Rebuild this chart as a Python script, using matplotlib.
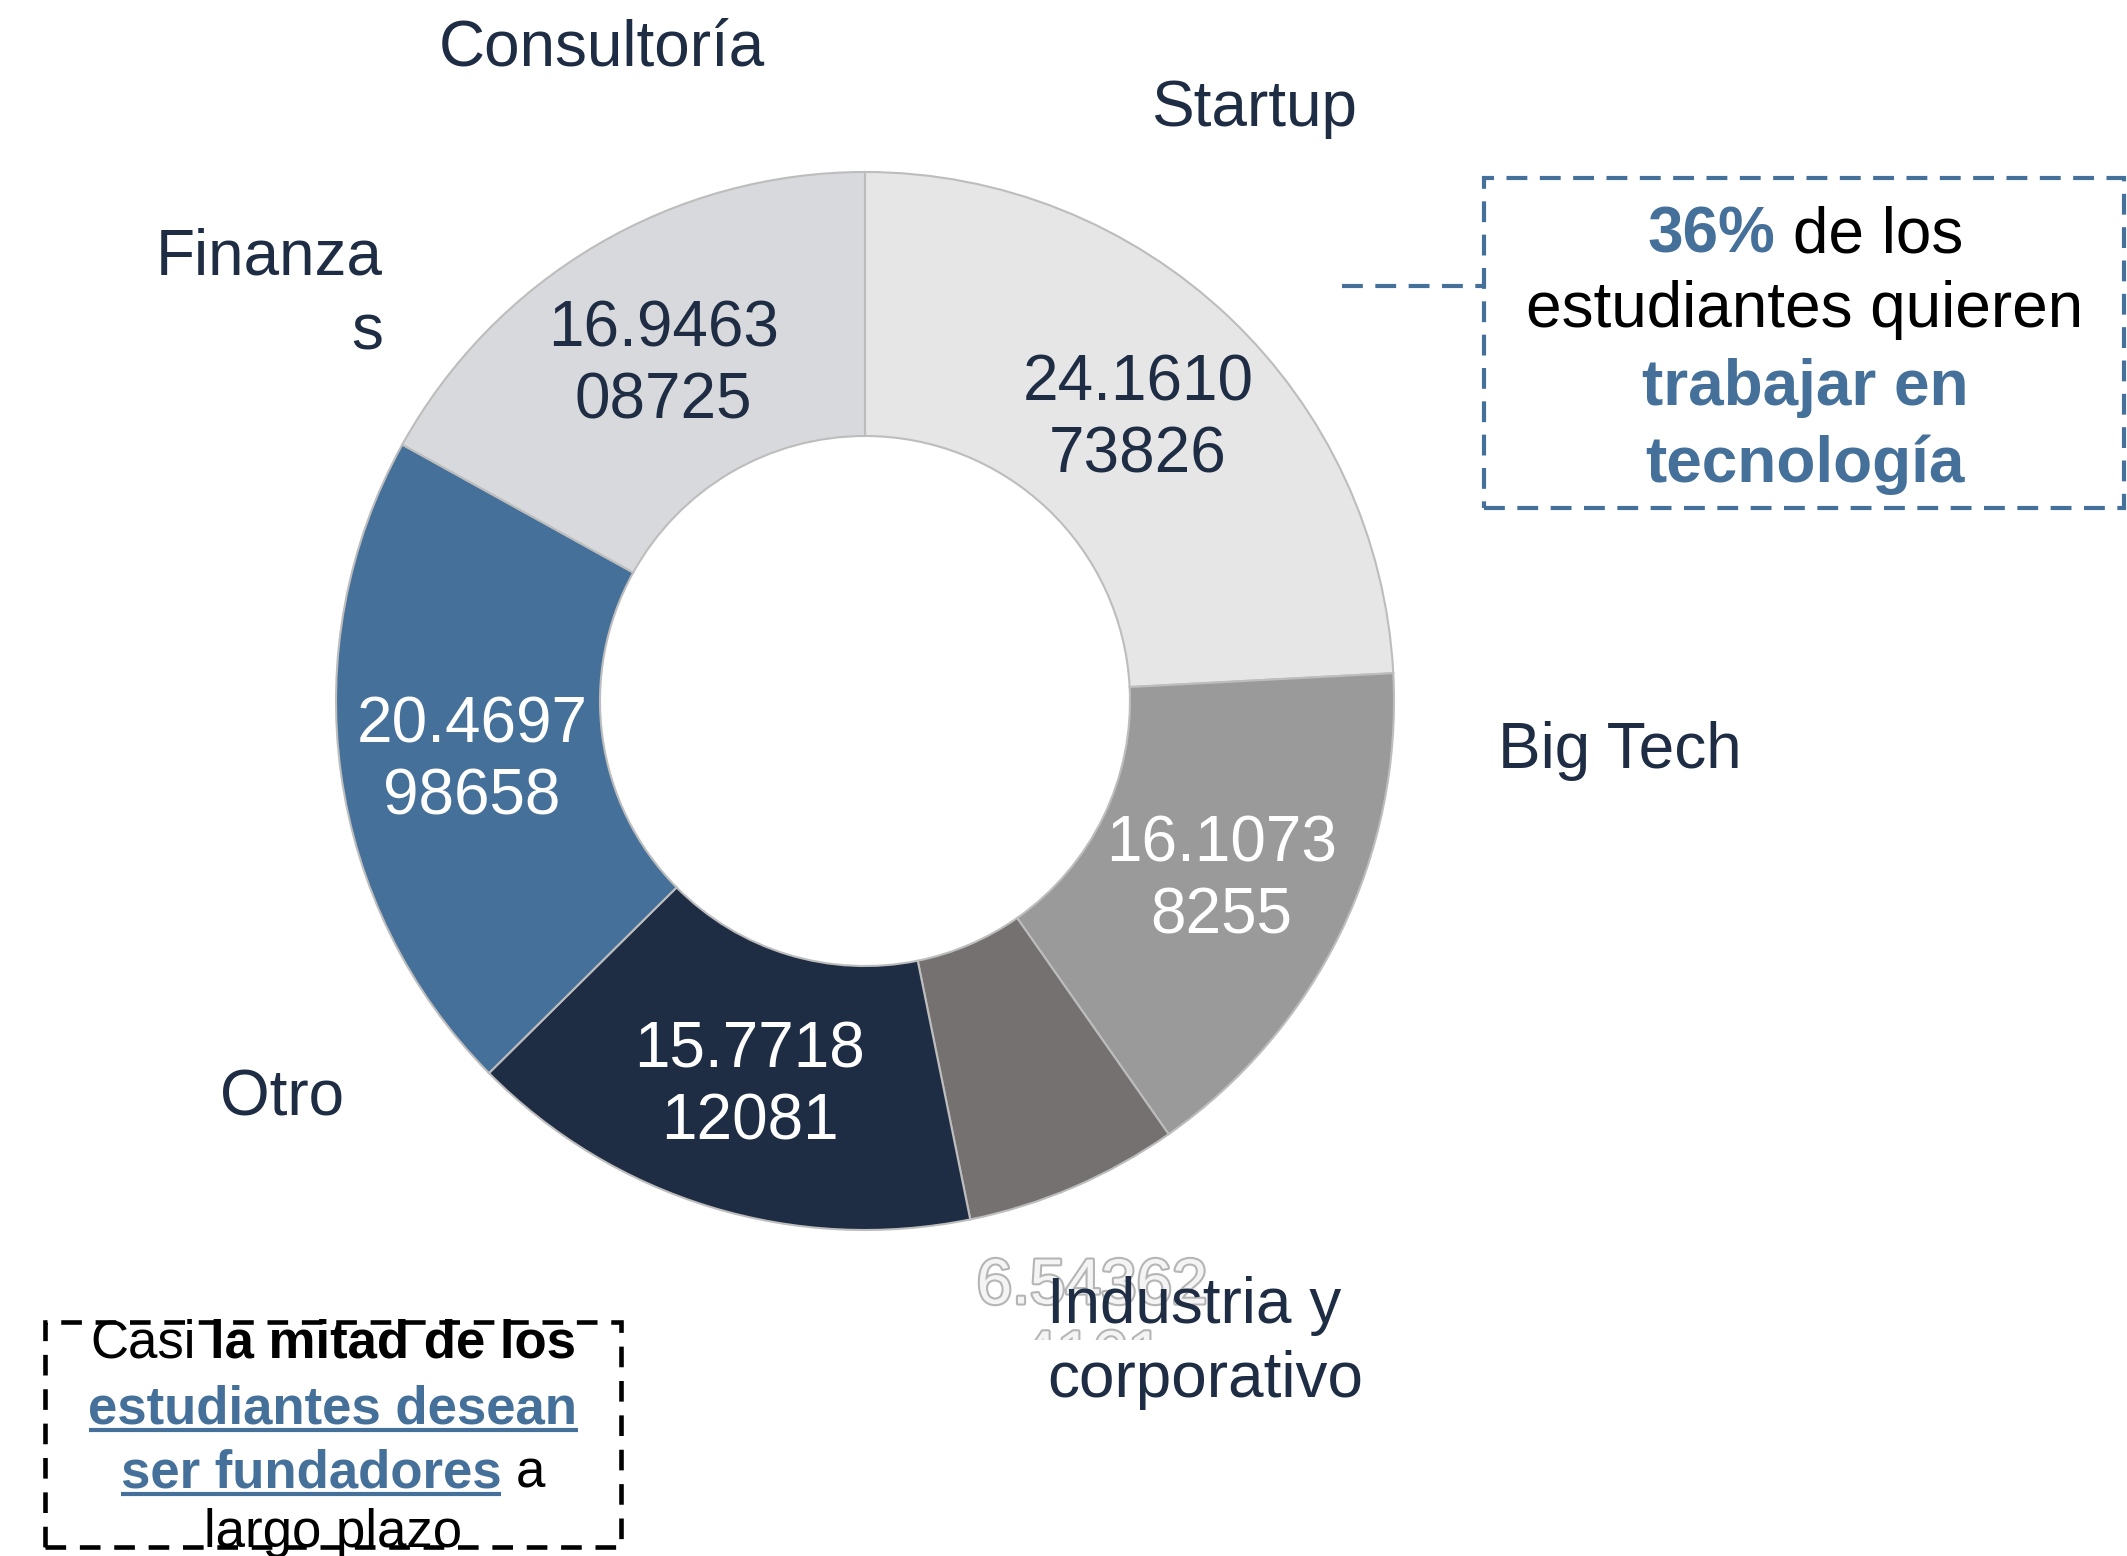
import numpy as np
import matplotlib
matplotlib.use("Agg")
import matplotlib.pyplot as plt
from matplotlib.patches import Rectangle
import matplotlib.patheffects as pe

# Datos de la encuesta (porcentaje de estudiantes)
categorias = ["Startup", "Big Tech", "Industria y corporativo", "Otro", "Finanzas", "Consultoría"]
valores = [24.161073826, 16.10738255, 6.543624161, 15.771812081, 20.469798658, 16.946308725]
colores = ["#e6e6e6", "#9a9a9a", "#757171", "#1f2d44", "#44709a", "#d8d9dc"]
color_texto = ["#1f2d44", "white", "#f4f4f4", "white", "white", "#1f2d44"]

AZUL = "#44709a"
NAVY = "#1f2d44"
W, H = 2127, 1556
plt.rcParams["font.family"] = ["Liberation Sans", "DejaVu Sans"]

fig = plt.figure(figsize=(W / 100, H / 100), dpi=100)
ax = fig.add_axes([0, 0, 1, 1])

# Centro y radios del anillo (en pixeles de la figura)
cx, cy = 865, H - 701
R = 529
ancho = 264

wedges, _ = ax.pie(valores, colors=colores, startangle=90, counterclock=False,
                   radius=R, center=(cx, cy),
                   wedgeprops=dict(width=ancho, edgecolor="#bdbdbd", linewidth=1.5))
ax.set_xlim(0, W)
ax.set_ylim(0, H)
ax.set_aspect("auto")
ax.axis("off")

# Etiquetas de valor dentro de cada porción
r_etiqueta = [0.75, 0.75, 1.24, 0.75, 0.75, 0.75]
desfase = [0, 0, -3, 0, 0, 0]
acum = 90.0
for v, col, rf, d in zip(valores, color_texto, r_etiqueta, desfase):
    ang = acum - v * 3.6 / 2 + d
    acum -= v * 3.6
    s = repr(v)
    txt = s[:7] + "\n" + s[7:]
    x = cx + rf * R * np.cos(np.radians(ang))
    y = cy + rf * R * np.sin(np.radians(ang)) - 6
    t = ax.text(x, y, txt, ha="center", va="center", fontsize=46, color=col,
                linespacing=1.25, zorder=3)
    if rf > 1:
        t.set_path_effects([pe.Stroke(linewidth=3, foreground="#b5b5b5"), pe.Normal()])

# tapa blanca bajo la etiqueta de categoría
ax.add_patch(Rectangle((960, H - 1425), 320, 85, facecolor="white", edgecolor="none", zorder=4))

# Nombres de categoría
def etiqueta(x, yb, s, ha="left"):
    ax.text(x, H - yb, s, ha=ha, va="baseline", fontsize=46, color=NAVY, zorder=5)

etiqueta(439, 65, "Consultoría")
etiqueta(1151, 126, "Startup")
etiqueta(383, 274, "Finanza", ha="right")
etiqueta(383, 349, "s", ha="right")
etiqueta(1498, 768, "Big Tech")
etiqueta(220, 1116, "Otro")
etiqueta(1047, 1323, "Industria y")
etiqueta(1047, 1397, "corporativo")

renderer = fig.canvas.get_renderer()


def linea_mixta(segmentos, xc, yb, size, subrayar=None):
    textos = []
    for s, col, peso in segmentos:
        t = ax.text(0, H - yb, s, ha="left", va="baseline", fontsize=size,
                    color=col, fontweight=peso, zorder=5)
        textos.append(t)
    anchos = [t.get_window_extent(renderer).width for t in textos]
    esp = 0.278 * size * 100 / 72
    total = sum(anchos) + esp * (len(textos) - 1)
    x = xc - total / 2
    for i, (t, w) in enumerate(zip(textos, anchos)):
        t.set_x(x)
        if subrayar and i in subrayar:
            ax.plot([x, x + w], [H - yb - 7, H - yb - 7], color=AZUL, lw=3, zorder=5,
                    solid_capstyle="butt")
        x += w + esp


# Recuadro de tecnología
ax.add_patch(Rectangle((1484, H - 508), 640, 330, fill=False, edgecolor=AZUL,
                       lw=3, linestyle=(0, (5, 3)), zorder=6))
ax.plot([1342, 1484], [H - 286, H - 286], color=AZUL, lw=3, linestyle=(0, (5, 3)))
linea_mixta([("36%", AZUL, "bold"), ("de los", "black", "normal")], 1805, 252, 46)
linea_mixta([("estudiantes quieren", "black", "normal")], 1805, 327, 46)
linea_mixta([("trabajar en", AZUL, "bold")], 1805, 405, 46)
linea_mixta([("tecnología", AZUL, "bold")], 1805, 482, 46)

# Recuadro de fundadores
ax.add_patch(Rectangle((45, H - 1547), 576, 225, fill=False, edgecolor="black",
                       lw=3.3, linestyle=(0, (4.5, 3)), zorder=6))
linea_mixta([("Casi", "black", "normal"), ("la mitad de los", "black", "bold")], 333, 1358, 38)
linea_mixta([("estudiantes desean", AZUL, "bold")], 333, 1423, 38, subrayar=[0])
linea_mixta([("ser fundadores", AZUL, "bold"), ("a", "black", "normal")], 333, 1487, 38, subrayar=[0])
linea_mixta([("largo plazo", "black", "normal")], 333, 1547, 38)

fig.savefig("out.png", dpi=100)
